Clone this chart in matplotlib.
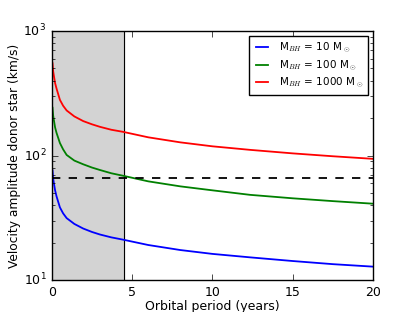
import numpy as np
import matplotlib
matplotlib.use("Agg")
import matplotlib.pyplot as plt

period = [0.04, 0.08, 0.12, 0.2, 0.29, 0.5, 0.7, 0.92, 1.4, 1.95, 2.5,
          2.99, 3.7, 4.42, 6, 8, 10, 12.34, 15, 17.5, 20]
# donor star velocity amplitude (km/s) for each black hole mass
k_10 = [76, 65.5, 60.5, 52.5, 47, 38.3, 34.3, 31.4, 28.2, 25.9, 24.3,
        23.2, 22.0, 21.1, 19.1, 17.4, 16.2, 15.2, 14.2, 13.4, 12.8]
k_100 = [242, 209, 194, 168, 152, 126, 112, 101, 91, 85, 80,
         76.5, 72, 68.8, 62, 56.5, 52.5, 48.3, 45.3, 43, 41]
k_1000 = [551, 475, 440, 382, 345, 280, 251, 230, 206, 189, 178,
          170, 161, 155, 140, 127.5, 118.5, 111, 104, 98.6, 94]
labels = [r'M$_{BH}$ = 10 M$_\odot$', r'M$_{BH}$ = 100 M$_\odot$',
          r'M$_{BH}$ = 1000 M$_\odot$']
colors = ['b', 'g', 'r']
k_limit = 65.6    # dashed horizontal line
p_limit = 4.5     # edge of shaded region

plt.style.use('classic')
plt.rcParams['font.size'] = 9
fig = plt.figure(figsize=(4.15, 3.12), dpi=100, facecolor='white')
ax = fig.add_axes([0.125, 0.1026, 0.774, 0.798])
ax.axvspan(0, p_limit, color='lightgray', zorder=0)
ax.axvline(p_limit, color='k', lw=0.8)
for k, lab, c in zip([k_10, k_100, k_1000], labels, colors):
    ax.plot(period, k, color=c, lw=1.3, label=lab)
ax.axhline(k_limit, color='k', ls='--', lw=1.3)
ax.set_yscale('log')
ax.set_xlim(0, 20)
ax.set_ylim(10, 1000)
ax.set_xlabel('Orbital period (years)', fontsize=9, labelpad=1)
ax.set_ylabel('Velocity amplitude donor star (km/s)', fontsize=8.8,
              labelpad=2)
ax.tick_params(labelsize=9)
leg = ax.legend(loc='upper right', fontsize=7.5, handlelength=1.7,
                borderpad=0.4, labelspacing=0.35)
fig.savefig('out.png', dpi=100, facecolor='white')
